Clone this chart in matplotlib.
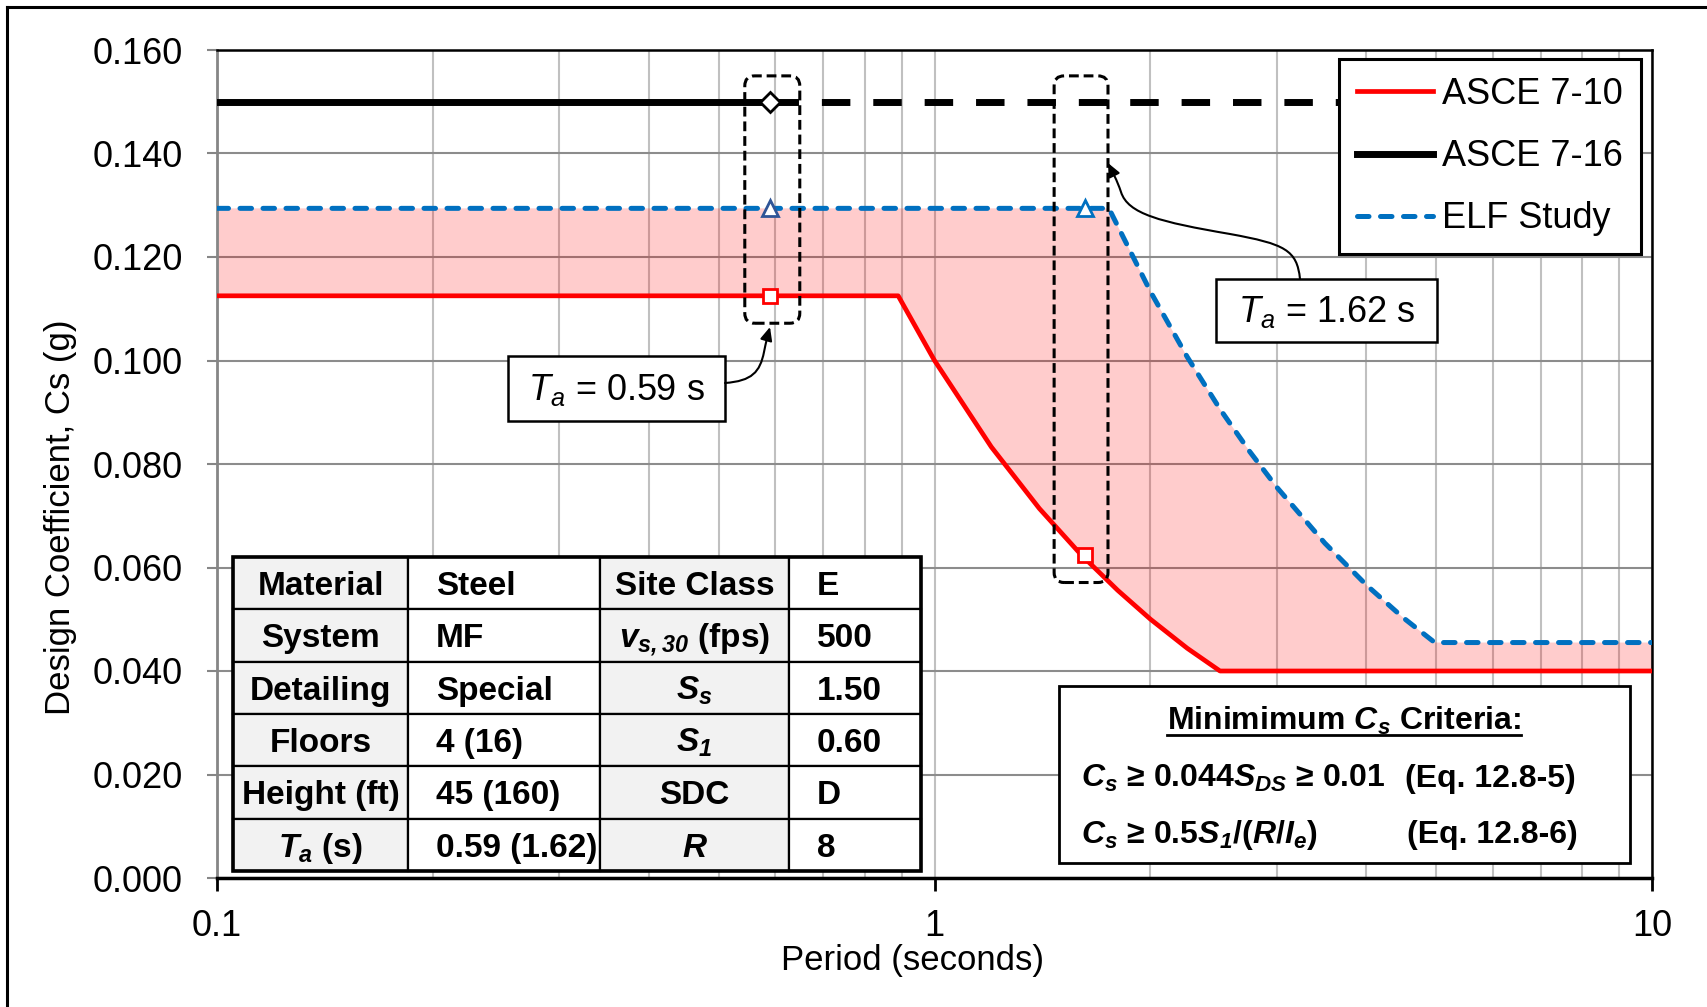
import matplotlib.pyplot as plt
import numpy as np
from matplotlib.lines import Line2D
from matplotlib.patches import Rectangle, FancyBboxPatch, FancyArrowPatch
from matplotlib.path import Path
from matplotlib.transforms import IdentityTransform
from matplotlib.ticker import FixedLocator, LogLocator, NullFormatter

plt.rcParams['font.family'] = ['Liberation Sans', 'DejaVu Sans']
plt.rcParams['mathtext.fontset'] = 'custom'
plt.rcParams['mathtext.rm'] = 'Liberation Sans'
plt.rcParams['mathtext.it'] = 'Liberation Sans:italic'
plt.rcParams['mathtext.bf'] = 'Liberation Sans:bold'
plt.rcParams['mathtext.bfit'] = 'Liberation Sans:italic:bold'

#--- Values
period_710 = [0.1, 0.89, 1.0, 1.2, 1.4, 1.6, 1.8, 2.0, 2.25, 2.5, 10]
cs_710 = [0.1125, 0.1125, 0.100, 0.0833, 0.0714, 0.0625, 0.0556, 0.050, 0.0444, 0.040, 0.040]

period_elf = [0.1, 1.75, 2.0, 2.25, 2.5, 2.75, 3.0, 3.5, 4.0, 4.5, 4.98, 10]
cs_elf = [0.1294, 0.1294, 0.1133, 0.1007, 0.0906, 0.0824, 0.0755, 0.0647, 0.0566, 0.0503, 0.0455, 0.0455]

# solid up to Ta = 0.59 s, dashed beyond (runs under the legend)
period_716 = [0.1, 0.59, 4.5]
cs_716 = [0.150, 0.150, 0.150]

ta = [0.59, 1.62]
ta_cs_710 = [0.1125, 0.0624]
ta_cs_elf = [0.1294, 0.1294]
ta_cs_716 = 0.150

yticks = [0.0, 0.02, 0.04, 0.06, 0.08, 0.10, 0.12, 0.14, 0.16]
xticks = [0.1, 1, 10]
xtick_labels = ['0.1', '1', '10']
legend_labels = ['ASCE 7-10', 'ASCE 7-16', 'ELF Study']

tbl_col1 = ['Material', 'System', 'Detailing', 'Floors', 'Height (ft)', r'$\mathbfit{T}_{\mathbfit{a}}$ (s)']
tbl_col2 = ['Steel', 'MF', 'Special', '4 (16)', '45 (160)', '0.59 (1.62)']
tbl_col3 = ['Site Class', r'$\mathbfit{v}_{\mathbfit{s,30}}$ (fps)', r'$\mathbfit{S}_{\mathbfit{s}}$',
            r'$\mathbfit{S}_{\mathbfit{1}}$', 'SDC', r'$\mathbfit{R}$']
tbl_col4 = ['E', '500', '1.50', '0.60', 'D', '8']

#--- Figure / axes (pixel layout of the original, 1707x1007 @ 100 dpi)
W, H = 1707, 1007
AX_L, AX_R, AX_T, AX_B = 217, 1652, 50, 878
fig = plt.figure(figsize=(W / 100, H / 100), dpi=100)
ax = fig.add_axes([AX_L / W, (H - AX_B) / H, (AX_R - AX_L) / W, (AX_B - AX_T) / H])


def px(x, y):
    # pixel position in the picture -> axes fraction
    return ((x - AX_L) / (AX_R - AX_L), (AX_B - y) / (AX_B - AX_T))


ax.set_xscale('log')
ax.set_xlim(0.1, 10)
ax.set_ylim(0, 0.16)

# shaded band between ASCE 7-10 and the ELF study
ax.fill(np.concatenate([period_elf, period_710[::-1]]),
        np.concatenate([cs_elf, cs_710[::-1]]),
        color='red', alpha=0.2, lw=0, zorder=1)

l710, = ax.plot(period_710, cs_710, color='#FF0000', lw=3.4, zorder=3)
l716, = ax.plot(period_716[:2], cs_716[:2], color='black', lw=5, zorder=3)
ax.plot(period_716[1:], cs_716[1:], color='black', lw=5, dashes=(4.1, 3.3), zorder=3)
lelf, = ax.plot(period_elf, cs_elf, color='#0070C0', lw=3.6, dashes=(2.3, 2.3),
                dash_capstyle='round', zorder=3)

# markers at the two Ta values
ax.plot(ta[0], ta_cs_716, marker='D', ms=10, mfc='white', mec='black', mew=2, zorder=5)
ax.plot(ta[0], ta_cs_elf[0], marker='^', ms=12, mfc='white', mec='#2F5597', mew=2, zorder=5)
ax.plot(ta[1], ta_cs_elf[1], marker='^', ms=12, mfc='white', mec='#0070C0', mew=2, zorder=5)
ax.plot(ta, ta_cs_710, 's', ms=10, mfc='white', mec='red', mew=2, zorder=5)

#--- Grid, ticks, spines
ax.set_axisbelow(True)
ax.xaxis.set_major_locator(FixedLocator(xticks))
ax.xaxis.set_minor_locator(LogLocator(base=10, subs=np.arange(2, 10), numticks=20))
ax.xaxis.set_minor_formatter(NullFormatter())
ax.set_xticklabels(xtick_labels)
ax.set_yticks(yticks)
ax.set_yticklabels([f'{v:.3f}' for v in yticks])
ax.grid(True, which='both', axis='x', color='#C0C0C0', lw=1.5)
ax.grid(True, which='major', axis='y', color='#8C8C8C', lw=1.5)
ax.tick_params(axis='x', which='minor', length=0)
ax.tick_params(axis='x', which='major', length=9, width=2, color='black', pad=13, labelsize=26)
ax.tick_params(axis='y', length=7.5, width=1.5, color='#868686', pad=17, labelsize=26)
ax.spines['left'].set_color('#868686')
ax.spines['left'].set_linewidth(2)
ax.spines['bottom'].set_linewidth(2.5)
ax.spines['top'].set_linewidth(1.8)
ax.spines['right'].set_linewidth(1.8)

ax.set_xlabel('Period (seconds)', fontsize=25)
ax.xaxis.set_label_coords(0.485, -0.0797)
ax.set_ylabel('Design Coefficient, Cs (g)', fontsize=25)
ax.yaxis.set_label_coords(-0.0976, 0.436)

leg = ax.legend([l710, l716, lelf], legend_labels, loc='upper right',
                bbox_to_anchor=px(1641, 59), bbox_transform=ax.transAxes,
                borderaxespad=0, fontsize=26, fancybox=False, framealpha=1,
                edgecolor='black', handlelength=2.1, handletextpad=0.25,
                labelspacing=0.75, borderpad=0.5)
leg.get_frame().set_linewidth(2.2)
leg.set_zorder(8)

#--- Dashed rounded boxes around the Ta markers
for t0, t1, c0, c1 in [(0.544, 0.649, 0.1072, 0.1550), (1.468, 1.745, 0.0571, 0.1550)]:
    x0, y0 = ax.transData.transform((t0, c0))
    x1, y1 = ax.transData.transform((t1, c1))
    ax.add_patch(FancyBboxPatch((x0, y0), x1 - x0, y1 - y0,
                                boxstyle='round,pad=0,rounding_size=10',
                                transform=IdentityTransform(), fill=False,
                                ec='black', lw=2.2, ls=(0, (3.2, 1.6)), zorder=6))

#--- Ta callouts
for (bx0, by0, bx1, by1), label in [((508, 356, 725, 421), r'$T_a$ = 0.59 s'),
                                    ((1216, 279, 1437, 342), r'$T_a$ = 1.62 s')]:
    ax.add_patch(Rectangle(px(bx0, by1), (bx1 - bx0) / (AX_R - AX_L), (by1 - by0) / (AX_B - AX_T),
                           transform=ax.transAxes, fc='white', ec='black', lw=1.8, zorder=6))
    cx, cy = px((bx0 + bx1) / 2, (by0 + by1) / 2 + 12)
    ax.text(cx, cy, label, transform=ax.transAxes, fontsize=26, ha='center', va='baseline', zorder=7)

arrow_paths = [
    [(725, 383), (752, 381), (760, 372), (764, 352), (766, 342), (768, 334), (770, 327)],
    [(1300, 279), (1297, 250), (1285, 244), (1230, 234), (1160, 222), (1128, 214), (1121, 192),
     (1117, 180), (1112, 171), (1108, 163)],
]
for pts in arrow_paths:
    verts = [px(x, y) for x, y in pts]
    codes = [Path.MOVETO] + [Path.CURVE4] * (len(verts) - 1)
    ax.add_patch(FancyArrowPatch(path=Path(verts, codes), transform=ax.transAxes,
                                 arrowstyle='-|>,head_length=0.4,head_width=0.18',
                                 mutation_scale=20, color='black', lw=1.5, zorder=7))

#--- Building data table
col_x = [233, 408, 600, 789, 921]
row_top, row_h = 557, 52.3
columns = [tbl_col1, tbl_col2, tbl_col3, tbl_col4]
for r in range(6):
    for c in range(4):
        x0, x1 = col_x[c], col_x[c + 1]
        yt = row_top + r * row_h
        ax.add_patch(Rectangle(px(x0, yt + row_h), (x1 - x0) / (AX_R - AX_L), row_h / (AX_B - AX_T),
                               transform=ax.transAxes, fc='#F2F2F2' if c in (0, 2) else 'white',
                               ec='black', lw=1.6, zorder=6))
        if c in (0, 2):
            tx, ha = (x0 + x1) / 2, 'center'
        else:
            tx, ha = x0 + 28, 'left'
        ax.text(*px(tx, yt + row_h / 2 + 12), columns[c][r], transform=ax.transAxes,
                fontsize=24, fontweight='bold', ha=ha, va='baseline', zorder=7)
ax.add_patch(Rectangle(px(col_x[0], row_top + 6 * row_h), (col_x[-1] - col_x[0]) / (AX_R - AX_L),
                       6 * row_h / (AX_B - AX_T), transform=ax.transAxes, fill=False,
                       ec='black', lw=2.6, zorder=6.5))

#--- Minimum Cs criteria box
ax.add_patch(Rectangle(px(1059, 863), (1630 - 1059) / (AX_R - AX_L), (863 - 686) / (AX_B - AX_T),
                       transform=ax.transAxes, fc='white', ec='black', lw=2, zorder=6))
crit_title = ax.text(*px(1344, 730), r'Minimimum $\mathbfit{C}_{\mathbfit{s}}$ Criteria:',
                     transform=ax.transAxes, fontsize=23, fontweight='bold',
                     ha='center', va='baseline', zorder=7)
ax.text(*px(1081, 787), r'$\mathbfit{C}_{\mathbfit{s}}$ ≥ 0.044$\mathbfit{S}_{\mathbfit{DS}}$ ≥ 0.01',
        transform=ax.transAxes, fontsize=23, fontweight='bold', va='baseline', zorder=7)
ax.text(*px(1405, 787), '(Eq. 12.8-5)', transform=ax.transAxes, fontsize=23,
        fontweight='bold', va='baseline', zorder=7)
ax.text(*px(1081, 843),
        r'$\mathbfit{C}_{\mathbfit{s}}$ ≥ 0.5$\mathbfit{S}_{\mathbfit{1}}$/($\mathbfit{R}$/$\mathbfit{I}_{\mathbfit{e}}$)',
        transform=ax.transAxes, fontsize=23, fontweight='bold', va='baseline', zorder=7)
ax.text(*px(1407, 843), '(Eq. 12.8-6)', transform=ax.transAxes, fontsize=23,
        fontweight='bold', va='baseline', zorder=7)

# underline for the criteria title
fig.canvas.draw()
bb = crit_title.get_window_extent()
ax.add_line(Line2D([bb.x0, bb.x1], [H - 735, H - 735], transform=IdentityTransform(),
                   color='black', lw=2, zorder=7))

# outer frame (only left and top edges are in the picture)
fig.add_artist(Line2D([7 / W, 7 / W], [0, 1 - 7 / H], transform=fig.transFigure, color='black', lw=2.2))
fig.add_artist(Line2D([7 / W, 1], [1 - 7 / H, 1 - 7 / H], transform=fig.transFigure, color='black', lw=2.2))

fig.savefig('out.png', dpi=100)
plt.close()
